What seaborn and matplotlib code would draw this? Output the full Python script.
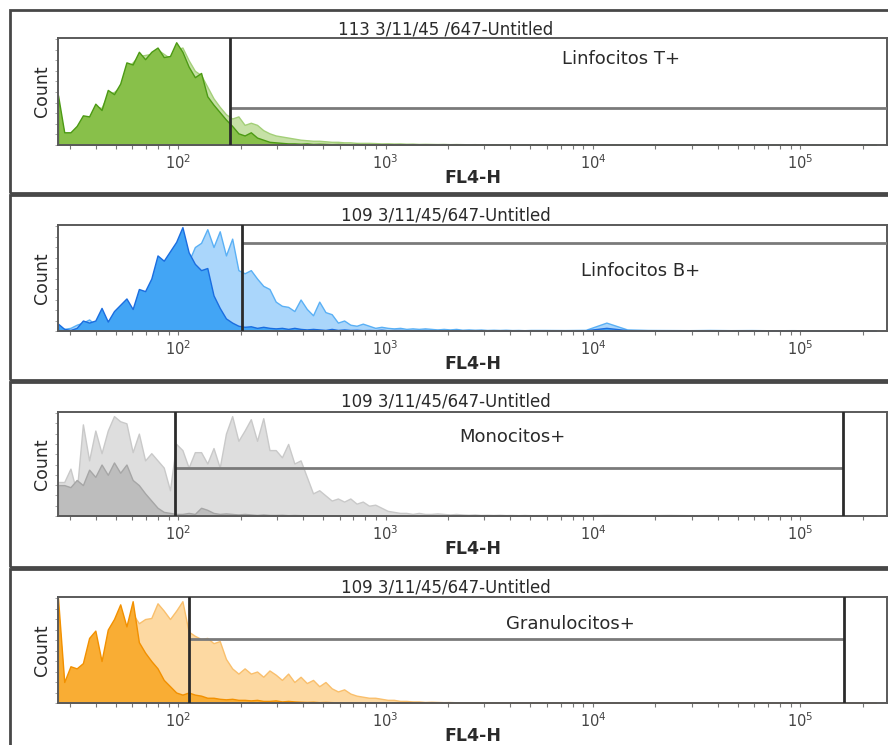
import numpy as np
import pandas as pd
import matplotlib
matplotlib.use("Agg")
import matplotlib.pyplot as plt
from matplotlib.patches import Rectangle
import seaborn as sns

# ---------------------------------------------------------------- data
# histogram bins (log10 of FL4-H); fine bins for the body, coarse bins for the tail
bin_log_main = np.round(np.arange(1.42, 3.705, 0.03), 3)      # 77 bins
bin_log_tail = np.round(np.arange(3.765, 5.40, 0.10), 3)      # 17 bins

axis_min = 26.3
axis_max = 262144

titles = ["113 3/11/45 /647-Untitled", "109 3/11/45/647-Untitled",
          "109 3/11/45/647-Untitled", "109 3/11/45/647-Untitled"]
gate_names = ["Linfocitos T+", "Linfocitos B+", "Monocitos+", "Granulocitos+"]
gate_low = [178, 204, 96, 113]
gate_high = [None, None, 1.6e5, 1.62e5]
gate_level = [34.6, 84, 47, 61]          # % of max count
label_x = [13600, 17000, 4070, 7760]
label_y = [81, 57, 77, 75]

# counts, % of panel maximum ----------------------------------------
t_dark_main = [47, 12, 12, 18, 28, 27, 39, 33, 52, 48,
               58, 78, 76, 88, 81, 88, 92, 83, 84, 97,
               88, 74, 64, 68, 46, 38, 31, 24, 18, 11,
               9, 12, 7, 5, 3, 2.5, 2, 1.5, 1.5, 1.2,
               1.5, 1, 1.2, 1, 0.8, 1, 0.8, 0.7, 0.9, 0.6,
               0.7, 0.5, 0.6, 0.5, 0.4, 0.6, 0.4, 0.5, 0.3, 0.4,
               0.4, 0.3, 0.5, 0.3, 0.3, 0.4, 0.2, 0.3, 0.3, 0.2,
               0.3, 0.2, 0.3, 0.2, 0.2, 0.3, 0.2]
t_dark_tail = [0.2, 0.3, 0.2, 0.3, 0.2, 0.2, 0.3, 0.2, 0.2, 0.2,
               0.1, 0.1, 0.1, 0.1, 0.0, 0.0, 0.0]
t_light_main = [40, 10, 11, 16, 25, 26, 36, 35, 48, 50,
                55, 72, 78, 84, 85, 86, 90, 86, 82, 90,
                92, 80, 70, 66, 55, 44, 36, 29, 25, 27,
                19, 21, 19, 14, 11, 9, 8, 7, 6, 5,
                4.5, 4, 4, 3.5, 3, 3, 2.5, 2.5, 2, 2,
                2, 1.8, 1.5, 1.6, 1.4, 1.5, 1.2, 1.3, 1.0, 1.1,
                1.0, 0.9, 1.0, 0.8, 0.9, 0.8, 0.7, 0.8, 0.6, 0.7,
                0.6, 0.6, 0.5, 0.6, 0.5, 0.5, 0.5]
t_light_tail = [0.5, 0.6, 0.4, 0.5, 0.4, 0.5, 0.4, 0.3, 0.4, 0.3,
                0.2, 0.2, 0.2, 0.1, 0.1, 0.0, 0.0]

b_dark_main = [7, 2, 1, 3, 10, 8, 10, 22, 9, 19,
               25, 31, 21, 40, 38, 50, 72, 67, 76, 85,
               99, 75, 64, 58, 60, 34, 22, 12, 8, 5,
               4, 4.5, 3, 4, 3, 2.5, 3, 2, 3, 2,
               1.5, 2, 1.5, 1, 2, 1, 1.5, 1, 1.2, 0.8,
               1, 0.8, 1.2, 0.7, 0.9, 1, 0.6, 0.8, 0.7, 0.9,
               0.6, 0.8, 0.7, 0.5, 0.9, 0.6, 0.7, 0.5, 0.8, 0.6,
               0.5, 0.7, 0.6, 0.5, 0.6, 0.5, 0.6]
b_dark_tail = [0.6, 0.5, 0.7, 3, 0.8, 0.6, 0.5, 0.7, 0.5, 0.6,
               0.4, 0.5, 0.4, 0.3, 0.2, 0.1, 0.1]
b_light_main = [4, 2, 3, 6, 8, 11, 6, 13, 10, 8,
                18, 22, 20, 30, 35, 42, 55, 52, 60, 62,
                70, 66, 80, 84, 97, 80, 95, 72, 88, 58,
                55, 58, 50, 43, 40, 28, 24, 23, 19, 30,
                21, 15, 28, 18, 16, 8, 10, 6, 5, 7,
                5, 3, 4, 3, 2.5, 3, 2, 2.5, 2, 2.5,
                2, 1.5, 2, 1.5, 2, 1.2, 1.5, 1.2, 1.4, 1.0,
                1.2, 1.0, 1.2, 0.9, 1.0, 0.8, 1.0]
b_light_tail = [1.0, 0.9, 1.1, 8, 1.5, 1.0, 0.9, 0.8, 1.0, 0.8,
                0.9, 0.7, 0.8, 0.6, 0.4, 0.3, 0.2]

m_dark_main = [30, 30, 28, 35, 30, 45, 38, 50, 40, 52,
               42, 50, 35, 30, 22, 15, 8, 4, 3, 2,
               2, 3, 2, 8, 6, 3, 2, 2.5, 2, 1.5,
               2, 1.5, 1, 1.5, 1, 1, 1.2, 0.8, 1, 0.8,
               0.8, 0.6, 0.8, 0.5, 0.6, 0.5, 0.4, 0.5, 0.4, 0.3,
               0.4, 0.3, 0.3, 0.2, 0.3, 0.2, 0.2, 0.2, 0.1, 0.2,
               0.1, 0.1, 0.2, 0.1, 0.1, 0.1, 0.1, 0.1, 0.1, 0.1,
               0.1, 0.1, 0.1, 0.1, 0.0, 0.1, 0.0]
m_dark_tail = [0.1, 0.0, 0.0, 0.0, 0.0, 0.0, 0.0, 0.0, 0.0, 0.0,
               0.0, 0.0, 0.0, 0.0, 0.0, 0.0, 0.0]
m_light_main = [33, 33, 46, 23, 89, 54, 83, 61, 83, 97,
                92, 90, 62, 80, 54, 61, 54, 47, 25, 70,
                64, 47, 62, 62, 51, 66, 47, 80, 97, 73,
                83, 94, 73, 95, 64, 64, 57, 70, 51, 54,
                38, 22, 25, 20, 15, 17, 14, 17, 12, 14,
                10, 11, 8, 5, 4, 3, 3, 2, 3, 2,
                2, 2.5, 2, 1.5, 2, 1.5, 1.2, 1.5, 1, 1.2,
                1, 1.2, 0.9, 1, 0.8, 1, 0.8]
m_light_tail = [0.9, 1.0, 0.8, 1.1, 0.9, 0.8, 1.0, 0.8, 0.9, 0.7,
                0.8, 0.6, 0.7, 0.5, 0.4, 0.3, 0.2]

g_dark_main = [100, 20, 35, 33, 38, 62, 69, 40, 70, 80,
               94, 73, 97, 58, 48, 40, 33, 22, 16, 10,
               8, 10, 8, 7, 5, 5, 4, 3.5, 4, 3,
               3, 2.5, 3, 2, 2, 2.5, 1.5, 2, 1.5, 1.2,
               1, 1.2, 0.8, 1, 0.8, 0.6, 0.7, 0.5, 0.5, 0.4,
               0.4, 0.3, 0.4, 0.3, 0.2, 0.3, 0.2, 0.2, 0.1, 0.2,
               0.1, 0.1, 0.1, 0.1, 0.1, 0.1, 0.1, 0.1, 0.1, 0.1,
               0.0, 0.1, 0.0, 0.0, 0.1, 0.0, 0.0]
g_dark_tail = [0.0] * 17
g_light_main = [90, 15, 25, 30, 28, 50, 55, 35, 60, 65,
                75, 70, 85, 76, 80, 81, 95, 88, 80, 88,
                97, 68, 64, 61, 62, 57, 59, 42, 33, 28,
                33, 28, 30, 25, 31, 27, 22, 28, 20, 25,
                19, 22, 16, 20, 14, 11, 13, 9, 7, 6,
                5, 5, 4, 3, 3, 2, 2, 1.5, 1.5, 1,
                1.2, 1, 0.8, 0.9, 0.7, 0.6, 0.7, 0.5, 0.5, 0.4,
                0.4, 0.3, 0.3, 0.3, 0.2, 0.2, 0.2]
g_light_tail = [0.2, 0.1, 0.1, 0.0, 0.0, 0.0, 0.0, 0.0, 0.0, 0.0,
                0.0, 0.0, 0.0, 0.0, 0.0, 0.0, 0.0]

dark_main = [t_dark_main, b_dark_main, m_dark_main, g_dark_main]
dark_tail = [t_dark_tail, b_dark_tail, m_dark_tail, g_dark_tail]
light_main = [t_light_main, b_light_main, m_light_main, g_light_main]
light_tail = [t_light_tail, b_light_tail, m_light_tail, g_light_tail]

# ---------------------------------------------------------------- style
dark_face = ["#88c04a", "#42a5f5", "#bdbdbd", "#f9ad34"]
dark_edge = ["#4c9a14", "#1a6de0", "#a6a6a6", "#f29000"]
light_face = ["#c6e1a6", "#aad6fb", "#dedede", "#fdd9a2"]
light_edge = ["#a3cf78", "#5ab0f5", "#c9c9c9", "#f9bf6c"]

sns.set_theme(style="white")
plt.rcParams["font.family"] = ["DejaVu Sans"]
TXT = "#2a2a2a"

W, H = 888, 745
axes_px = [(38, 145), (225, 331), (412, 516), (597, 703)]
frames_px = [(10, 193), (195, 380), (382, 567), (569, 770)]
title_y_px = [30, 216, 402, 588]

centers = np.concatenate([bin_log_main, bin_log_tail])
edges = [float(e) for e in np.concatenate([bin_log_main - 0.015,
                                           [bin_log_main[-1] + 0.015],
                                           bin_log_tail + 0.05])]

fig = plt.figure(figsize=(8.88, 7.45), dpi=100, facecolor="white")

minor_ticks = [np.log10(k * 10 ** n) for n in range(1, 6) for k in range(2, 10)
               if np.log10(axis_min) < np.log10(k * 10 ** n) < np.log10(axis_max)]

for k in range(4):
    ftop, fbot = frames_px[k]
    fig.add_artist(Rectangle((10 / W, 1 - fbot / H), (905 - 10) / W, (fbot - ftop) / H,
                             transform=fig.transFigure, fill=False,
                             edgecolor="#474747", linewidth=2.0))
    top, bot = axes_px[k]
    ax = fig.add_axes([58 / W, 1 - bot / H, 829 / W, (bot - top) / H])
    ax.set_facecolor("white")

    for main, tail, face, edge, z in [
            (light_main[k], light_tail[k], light_face[k], light_edge[k], 1),
            (dark_main[k], dark_tail[k], dark_face[k], dark_edge[k], 2)]:
        df = pd.DataFrame({"fl4": centers,
                           "count": np.concatenate([main, tail])})
        sns.histplot(data=df, x="fl4", weights="count", bins=edges,
                     element="poly", fill=True, stat="count",
                     facecolor=face, edgecolor=edge, linewidth=1.0,
                     zorder=z, ax=ax)

    xmin, xmax = np.log10(axis_min), np.log10(axis_max)
    ax.set_xlim(xmin, xmax)
    ax.set_ylim(0, 101)

    # gates
    lo = np.log10(gate_low[k])
    ax.axvline(lo, color="#2b2b2b", linewidth=2.0, zorder=6)
    if gate_high[k] is not None:
        hi = np.log10(gate_high[k])
        ax.axvline(hi, color="#2b2b2b", linewidth=2.0, zorder=6)
    else:
        hi = xmax
    ax.plot([lo, hi], [gate_level[k], gate_level[k]], color="#7a7a7a",
            linewidth=2.0, zorder=5, solid_capstyle="butt")
    ax.text(np.log10(label_x[k]), label_y[k], gate_names[k], ha="center",
            va="center", fontsize=13, color=TXT, zorder=7)

    # axes decoration
    for s in ax.spines.values():
        s.set_color("#5a5a5a")
        s.set_linewidth(1.4)
    ax.set_xticks([2, 3, 4, 5])
    ax.set_xticklabels(["$10^{2}$", "$10^{3}$", "$10^{4}$", "$10^{5}$"])
    ax.set_xticks(minor_ticks, minor=True)
    ax.set_yticks(np.arange(0, 101, 10))
    ax.set_yticklabels([])
    ax.tick_params(axis="x", which="both", bottom=True, direction="out",
                   length=3, width=0.8, color="#777777", labelsize=10.5,
                   labelcolor="#444444", pad=3)
    ax.tick_params(axis="y", which="both", left=True, direction="out",
                   length=2, width=0.6, color="#999999")
    ax.set_xlabel("FL4-H", fontsize=12.5, fontweight="bold", color=TXT)
    ax.set_ylabel("Count", fontsize=12.5, color=TXT)
    ax.xaxis.set_label_coords(0.5, -24 / (bot - top))
    ax.yaxis.set_label_coords(-0.008, 0.5)

    fig.text(446 / W, 1 - title_y_px[k] / H, titles[k], ha="center",
             va="center", fontsize=12, color=TXT)

fig.savefig("out.png", dpi=100, facecolor="white")
